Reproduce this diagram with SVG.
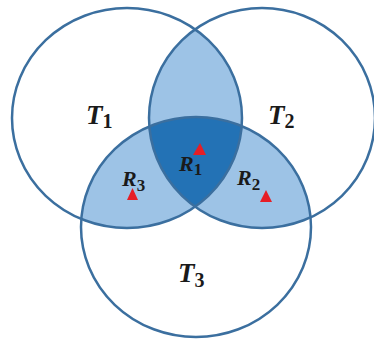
<svg xmlns="http://www.w3.org/2000/svg" width="374" height="341" viewBox="0 0 374 341">
<defs>
<style>
.c{fill:none;stroke:#3b6f9f;stroke-width:2.5}
.l{fill:#9dc3e6}
.d{fill:#2372b5}
.t{font-family:"Liberation Serif","DejaVu Serif",serif;font-weight:bold;fill:#1a1a1a}
.v{font-style:italic}
.tri{fill:#e61e26}
</style>
<clipPath id="k1"><ellipse cx="127" cy="118" rx="115" ry="110"/></clipPath>
<clipPath id="k2"><ellipse cx="262" cy="118" rx="113" ry="110"/></clipPath>
<clipPath id="k12" clip-path="url(#k1)"><ellipse cx="262" cy="118" rx="113" ry="110"/></clipPath>
</defs>
<rect width="374" height="341" fill="#fff"/>
<g id="regions">
<ellipse class="l" cx="262" cy="118" rx="113" ry="110" clip-path="url(#k1)"/>
<ellipse class="l" cx="196" cy="227" rx="115" ry="110" clip-path="url(#k1)"/>
<ellipse class="l" cx="196" cy="227" rx="115" ry="110" clip-path="url(#k2)"/>
<ellipse class="d" cx="196" cy="227" rx="115" ry="110" clip-path="url(#k12)"/>
</g>
<g id="T1">
<ellipse class="c" cx="127" cy="118" rx="115" ry="110"/>
<text class="t" x="86" y="124" font-size="27"><tspan class="v">T</tspan><tspan font-size="20" dy="4">1</tspan></text>
</g>
<g id="T2">
<ellipse class="c" cx="262" cy="118" rx="113" ry="110"/>
<text class="t" x="268" y="124" font-size="27"><tspan class="v">T</tspan><tspan font-size="20" dy="4">2</tspan></text>
</g>
<g id="T3">
<ellipse class="c" cx="196" cy="227" rx="115" ry="110"/>
<text class="t" x="178" y="282" font-size="27"><tspan class="v">T</tspan><tspan font-size="20" dy="5">3</tspan></text>
</g>
<g id="R1">
<polygon class="tri" points="200,143 206,155 193,155"/>
<text class="t" x="179" y="171" font-size="22"><tspan class="v">R</tspan><tspan font-size="17" dy="4">1</tspan></text>
</g>
<g id="R2">
<polygon class="tri" points="266,190 272,202 260,202"/>
<text class="t" x="237" y="185" font-size="22"><tspan class="v">R</tspan><tspan font-size="17" dy="5">2</tspan></text>
</g>
<g id="R3">
<polygon class="tri" points="132.5,188 138,200 127,200"/>
<text class="t" x="122" y="186" font-size="22"><tspan class="v">R</tspan><tspan font-size="17" dy="5">3</tspan></text>
</g>
</svg>
